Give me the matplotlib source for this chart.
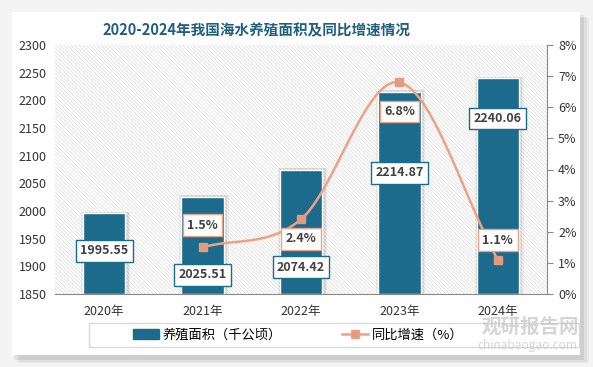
import matplotlib.pyplot as plt
import matplotlib.patches as mpatches
import numpy as np

plt.rcParams['font.family'] = ['Noto Sans CJK SC', 'DejaVu Sans']
plt.rcParams['hatch.color'] = '#d9d9d9'
plt.rcParams['hatch.linewidth'] = 0.5

years = ["2020年", "2021年", "2022年", "2023年", "2024年"]
area = [1995.55, 2025.51, 2074.42, 2214.87, 2240.06]
growth_years = [1, 2, 3, 4]
growth = [1.5, 2.4, 6.8, 1.1]
area_offsets = [-27, -56, -70, -58, -29]
growth_offsets = [16, -14, -21, 14]

bar_color = '#1c6a8c'
line_color = '#eda383'
marker_color = '#e49a7c'
text_color = '#404040'

fig = plt.figure(figsize=(5.93, 3.67), dpi=100)
fig.patch.set_facecolor('#f4f4f4')

# card with soft shadow
for i, a in enumerate([0.04, 0.05, 0.07]):
    fig.patches.append(mpatches.Rectangle((12 / 593 + 0.004 * (3 - i), 8 / 367 - 0.004 * (3 - i)),
                                          570 / 593, 345 / 367, transform=fig.transFigure,
                                          facecolor='black', alpha=a, edgecolor='none', zorder=-10))
fig.patches.append(mpatches.Rectangle((12 / 593, 12 / 367), 568 / 593, 343 / 367,
                                      transform=fig.transFigure, facecolor='white',
                                      edgecolor='none', zorder=-9))

ax = fig.add_axes([55 / 593, 73 / 367, 492 / 593, 249 / 367])
ax.set_facecolor('white')
ax.patch.set_hatch('\\' * 9)
ax.patch.set_edgecolor('#d9d9d9')
ax.patch.set_linewidth(0)

x = np.arange(len(years))
# soft bar shadows
for w, a in [(0.50, 0.05), (0.47, 0.07)]:
    ax.bar(x + 0.015, np.array(area) - 1850 + 3, bottom=1850, width=w, color='black',
           alpha=a, zorder=1, linewidth=0)
bars = ax.bar(x, np.array(area) - 1850, bottom=1850, width=0.43, color=bar_color,
              edgecolor='white', linewidth=1, zorder=2)
ax.set_ylim(1850, 2300)
ax.set_xlim(-0.5, 4.5)
ax.set_yticks(range(1850, 2301, 50))
ax.set_xticks(x)
ax.set_xticklabels(years)
ax.tick_params(axis='both', length=0, labelsize=9, colors='#333333', pad=6)
ax.tick_params(axis='x', pad=8)
for s in ['top', 'right', 'left']:
    ax.spines[s].set_visible(False)
ax.spines['bottom'].set_color('#888888')

for xi, v, off in zip(x, area, area_offsets):
    ax.annotate(f"{v:.2f}", (xi, v), xytext=(0, off), textcoords='offset points',
                ha='center', va='center', fontsize=9, fontweight='bold', color=text_color,
                bbox=dict(boxstyle='square,pad=0.35', facecolor='white', edgecolor=bar_color, lw=1),
                zorder=5)

ax2 = ax.twinx()
ax2.set_ylim(0, 8)
ax2.set_yticks(range(0, 9))
ax2.set_yticklabels([f"{i}%" for i in range(0, 9)])
ax2.tick_params(axis='y', direction='out', length=4, labelsize=9, colors='#333333', pad=4)
ax2.tick_params(axis='y', color='#888888')
for s in ['top', 'left', 'bottom']:
    ax2.spines[s].set_visible(False)
ax2.spines['right'].set_color('#888888')

# smooth curve through points (Catmull-Rom)
px = np.array(growth_years, dtype=float)
py = np.array(growth, dtype=float)
ext_x = np.concatenate([[2 * px[0] - px[1]], px, [2 * px[-1] - px[-2]]])
ext_y = np.concatenate([[2 * py[0] - py[1]], py, [2 * py[-1] - py[-2]]])
cx, cy = [], []
for i in range(1, len(ext_x) - 2):
    t = np.linspace(0, 1, 40)
    p0, p1, p2, p3 = [np.array([ext_x[j], ext_y[j]]) for j in range(i - 1, i + 3)]
    for tt in t:
        pt = 0.5 * ((2 * p1) + (-p0 + p2) * tt + (2 * p0 - 5 * p1 + 4 * p2 - p3) * tt ** 2
                    + (-p0 + 3 * p1 - 3 * p2 + p3) * tt ** 3)
        cx.append(pt[0])
        cy.append(pt[1])
ax2.plot(cx, cy, color=line_color, lw=1.8, zorder=3)
ax2.plot(px, py, linestyle='none', marker='s', markersize=6, color=marker_color, zorder=4)

for xi, v, off in zip(growth_years, growth, growth_offsets):
    ax2.annotate(f"{v}%", (xi, v), xytext=(0, off), textcoords='offset points',
                 ha='center', va='center', fontsize=9, fontweight='bold', color=text_color,
                 bbox=dict(boxstyle='square,pad=0.35', facecolor='white', edgecolor=line_color, lw=1),
                 zorder=6)

fig.text(256 / 593, 1 - 30 / 367, "2020-2024年我国海水养殖面积及同比增速情况", ha='center',
         va='center', fontsize=10.5, fontweight='bold', color='#1f5f7f')

# legend box
fig.patches.append(mpatches.Rectangle((89 / 593, 20 / 367), 490 / 593, 24 / 367,
                                      transform=fig.transFigure, facecolor='white',
                                      edgecolor='#d9d9d9', lw=1, zorder=-8))
h1 = mpatches.Patch(color=bar_color)
h2 = plt.Line2D([], [], color=line_color, marker='s', markersize=6, markerfacecolor=marker_color, lw=1.8)
fig.legend([h1, h2], ["养殖面积（千公顷）", "同比增速（%）"], loc='center',
           bbox_to_anchor=(298 / 593, 32 / 367), ncol=2, frameon=False, fontsize=9.5,
           handlelength=2.0, handletextpad=0.3, columnspacing=4.5)

fig.text(530 / 593, 1 - 327 / 367, "观研报告网", ha='center', va='center', fontsize=14,
         fontweight='bold', color='#c4c4c4', alpha=0.7)
fig.text(527 / 593, 1 - 345 / 367, "chinabaogao.com", ha='center', va='center', fontsize=8.5,
         color='#c4c4c4', alpha=0.7)

fig.savefig("out.png", dpi=100, facecolor=fig.get_facecolor())
